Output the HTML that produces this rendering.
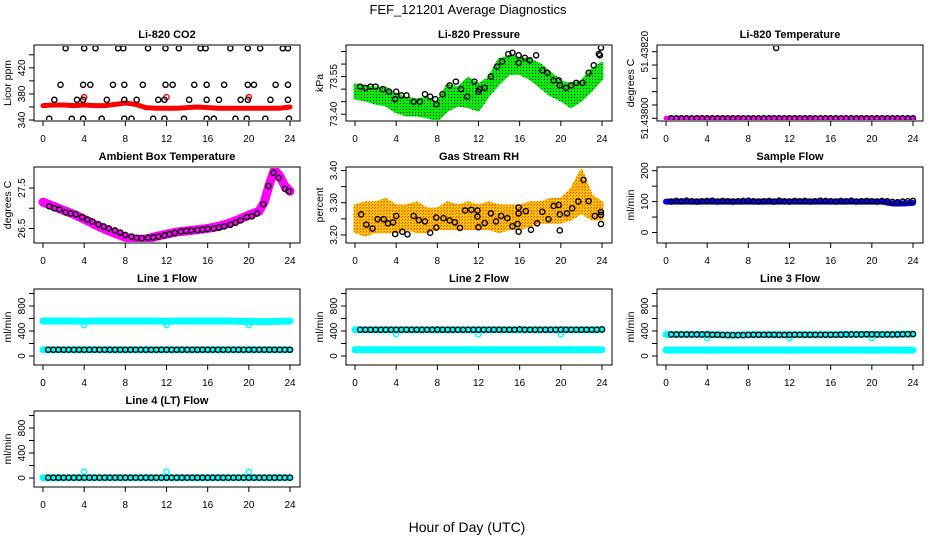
<!DOCTYPE html>
<html><head><meta charset="utf-8">
<style>
html,body{margin:0;padding:0;background:#fff;}
svg{display:block;font-family:"Liberation Sans",Arial,sans-serif;}
</style></head>
<body>
<svg id="chart" width="936" height="540" viewBox="0 0 936 540" xmlns="http://www.w3.org/2000/svg">
<defs>
<pattern id="greenDots" width="3" height="3" patternUnits="userSpaceOnUse">
<rect width="3" height="3" fill="#00ee00"/><rect x="1" y="1" width="1" height="1" fill="#000"/>
</pattern>
<pattern id="orangeDots" width="3" height="3" patternUnits="userSpaceOnUse">
<rect width="3" height="3" fill="#ffc000"/><rect width="1" height="1" fill="#ff4000"/><rect x="2" y="1" width="1" height="1" fill="#ff6000"/><rect x="1" y="2" width="1" height="1" fill="#ffe000"/>
</pattern>
</defs>
<text x="468" y="14" font-size="13" text-anchor="middle">FEF_121201  Average Diagnostics</text>
<text x="467" y="532" font-size="14" text-anchor="middle">Hour of Day (UTC)</text>
</svg>
<script>
// ---------- data ----------
const hourly = [0,1,2,3,4,5,6,7,8,9,10,11,12,13,14,15,16,17,18,19,20,21,22,23,24];
const halfHours = [0.5,1,1.5,2,2.5,3,3.5,4,4.5,5,5.5,6,6.5,7,7.5,8,8.5,9,9.5,10,10.5,11,11.5,12,12.5,13,13.5,14,14.5,15,15.5,16,16.5,17,17.5,18,18.5,19,19.5,20,20.5,21,21.5,22,22.5,23,23.5,24];
const xTicks = [0,4,8,12,16,20,24];

// CO2
const co2Band = [362,363,363,362,363,362,362,364,366,364,359,358,358,358,359,360,359,358,358,358,358,358,358,358,360];
const co2RedOutH = [4,12,20];
const co2RedOutV = [375,375,375];
const co2CircH = [2.2,4.0,5.1,7.3,7.8,10.2,11.9,13.2,15.3,15.8,18.2,19.9,21.1,23.3,23.8,
 1.7,3.9,4.6,6.8,7.9,9.7,11.9,12.6,14.7,15.9,17.6,19.9,20.5,22.6,23.8,
 1.1,3.3,3.9,6.2,7.9,9.1,11.2,11.8,14.2,15.9,17.1,19.2,19.9,22.1,23.8,
 0.6,2.8,3.9,5.7,7.9,8.6,10.7,11.8,13.7,15.9,16.6,18.7,19.8,21.6,23.9];
const co2CircV = [450,450,450,450,450,450,450,450,450,450,450,450,450,450,450,
 394,394,394,394,394,394,394,394,394,394,394,394,394,394,394,
 371,371,371,371,371,371,371,371,371,371,371,371,371,371,371,
 342,342,342,342,342,342,342,342,342,342,342,342,342,342,342];

// Pressure
const presUpper = [73.517,73.510,73.504,73.504,73.477,73.464,73.457,73.464,73.444,73.517,73.504,73.543,73.517,73.543,73.617,73.630,73.623,73.617,73.597,73.563,73.530,73.517,73.530,73.577,73.603];
const presLower = [73.464,73.457,73.444,73.437,73.410,73.397,73.397,73.390,73.377,73.417,73.437,73.430,73.417,73.477,73.524,73.563,73.563,73.543,73.510,73.477,73.457,73.430,73.457,73.497,73.543];
const presCircH = [0.5,1,1.5,2,2.7,3.3,4,3.9,4.5,5,5.7,6.3,6.8,7.3,7.8,7.9,8.5,9.2,9.8,10.3,10.9,11.6,12.1,12.0,12.6,13.2,13.8,14.3,14.9,15.3,15.9,15.9,16.5,17,17.6,18.2,18.7,19.3,19.8,19.9,20.5,21,21.5,22.1,22.7,23.2,23.8,23.9,23.7];
const presCircV = [73.51,73.505,73.51,73.51,73.50,73.49,73.49,73.46,73.475,73.475,73.45,73.45,73.48,73.47,73.46,73.44,73.48,73.515,73.53,73.50,73.47,73.53,73.50,73.49,73.505,73.55,73.59,73.61,73.64,73.645,73.635,73.605,73.625,73.615,73.635,73.575,73.565,73.535,73.535,73.515,73.505,73.515,73.525,73.525,73.565,73.595,73.635,73.665,73.64];

// Li-820 temperature
const tempBand = [51.438,51.438,51.438,51.438,51.438,51.438,51.438,51.438,51.438,51.438,51.438,51.438,51.438,51.438,51.438,51.438,51.438,51.438,51.438,51.438,51.438,51.438,51.438,51.438,51.438];
const tempCirc = [51.438,51.438,51.438,51.438,51.438,51.438,51.438,51.438,51.438,51.438,51.438,51.438,51.438,51.438,51.438,51.438,51.438,51.438,51.438,51.438,51.438,51.438,51.438,51.438,51.438,51.438,51.438,51.438,51.438,51.438,51.438,51.438,51.438,51.438,51.438,51.438,51.438,51.438,51.438,51.438,51.438,51.438,51.438,51.438,51.438,51.438,51.438,51.438];
const tempOutH = [10.7];
const tempOutV = [51.438211];

// Ambient box temperature
const ambHours = [0,1,2,3,4,5,6,7,8,9,10,11,12,13,14,15,16,17,18,19,20,21,21.5,22,22.5,23,23.5,24];
const ambVals = [27.15,27.05,26.95,26.85,26.73,26.6,26.48,26.38,26.28,26.23,26.24,26.3,26.36,26.41,26.44,26.47,26.5,26.55,26.62,26.72,26.83,26.93,27.15,27.6,27.95,27.8,27.55,27.42];
const ambCircH = [0.6,1.1,1.6,2.2,2.7,3.2,3.8,4.3,4.8,5.4,5.9,6.4,7.0,7.5,8.0,8.6,9.1,9.6,10.2,10.7,11.2,11.8,12.3,12.8,13.4,13.9,14.4,15.0,15.5,16.0,16.6,17.1,17.6,18.2,18.7,19.2,19.8,20.3,20.8,21.4,21.9,22.4,22.9,23.5,23.9];
const ambCircV = [27.05,27.0,26.97,26.9,26.87,26.85,26.78,26.72,26.67,26.6,26.55,26.5,26.45,26.4,26.34,26.3,26.27,26.26,26.27,26.28,26.3,26.33,26.36,26.39,26.42,26.44,26.45,26.46,26.47,26.49,26.5,26.52,26.55,26.59,26.64,26.7,26.78,26.8,26.87,27.1,27.55,27.88,27.75,27.48,27.42];

// Gas stream RH
const rhUpper = [3.29,3.30,3.30,3.31,3.29,3.29,3.30,3.28,3.28,3.30,3.29,3.30,3.29,3.30,3.29,3.29,3.29,3.30,3.30,3.31,3.31,3.34,3.40,3.32,3.30];
const rhLower = [3.21,3.20,3.21,3.21,3.21,3.22,3.21,3.21,3.22,3.22,3.22,3.22,3.22,3.22,3.21,3.22,3.22,3.23,3.24,3.24,3.24,3.25,3.27,3.25,3.25];
const rhCircH = [0.6,1.1,1.7,2.2,2.8,3.2,3.7,4.0,3.9,4.6,5.1,5.7,6.2,6.8,7.3,7.9,7.9,8.6,9.2,9.7,10.2,10.7,11.3,11.9,11.9,12.0,12.6,13.2,13.7,14.2,14.8,15.3,15.8,15.9,15.9,15.9,16.6,17.1,17.7,18.2,18.8,19.3,19.8,19.9,19.9,20.6,21.1,21.7,22.2,22.7,23.3,23.9,23.9,23.9];
const rhCircV = [3.264,3.232,3.220,3.249,3.249,3.236,3.239,3.259,3.203,3.210,3.202,3.259,3.246,3.242,3.207,3.254,3.223,3.252,3.245,3.239,3.222,3.276,3.278,3.276,3.257,3.224,3.237,3.267,3.242,3.259,3.252,3.227,3.234,3.285,3.210,3.267,3.274,3.216,3.236,3.272,3.249,3.290,3.293,3.214,3.264,3.267,3.283,3.304,3.371,3.305,3.259,3.271,3.234,3.262];

// Sample flow
const sampleBand = [100,100,100,100,100,100,100,100,100,100,100,100,100,100,100,100,100,100,100,100,100,100,94,94,96];
const sampleCirc = [100,102,101,103,101,100,101,102,103,100,102,101,100,101,102,103,101,100,101,102,100,103,101,100,102,101,102,100,101,103,102,101,100,102,101,103,100,101,102,101,100,102,101,99,98,100,101,102];

// Line flows
const line1Upper = [560,560,560,560,555,560,560,560,560,560,560,560,555,560,560,560,560,560,560,555,555,550,550,555,560];
const line1Lower = [100,100,100,100,100,100,100,100,100,100,100,100,100,100,100,100,100,100,100,100,100,100,100,100,100];
const line1Circ = [100,100,100,100,100,100,100,100,100,100,100,100,100,100,100,100,100,100,100,100,100,100,100,100,100,100,100,100,100,100,100,100,100,100,100,100,100,100,100,100,100,100,100,100,100,100,100,100];
const line1OutH = [4,12,20];
const line1OutV = [495,495,495];

const line2Upper = [420,420,420,420,420,420,420,420,420,420,420,420,420,420,420,420,420,420,420,420,420,420,420,420,425];
const line2Lower = [100,100,100,100,100,100,100,100,100,100,100,100,100,100,100,100,100,100,100,100,100,100,100,100,100];
const line2Circ = [420,420,420,420,420,420,420,420,420,420,420,420,420,420,420,422,420,420,420,420,420,420,420,420,420,420,420,420,420,420,420,425,420,420,420,420,420,420,420,422,420,420,420,420,420,420,420,425];
const line2OutH = [4,12,20];
const line2OutV = [350,350,350];

const line3Upper = [345,345,345,345,345,340,335,335,340,340,340,340,340,340,340,340,340,345,345,345,345,345,345,350,350];
const line3Lower = [95,95,95,95,95,95,95,95,95,95,95,95,95,95,95,95,95,95,95,95,95,95,95,95,95];
const line3Circ = [345,345,345,345,345,345,345,345,340,340,338,335,335,335,335,338,340,340,340,340,340,338,338,338,340,340,340,340,340,340,340,340,340,342,345,345,345,345,348,348,345,345,345,345,345,348,350,352];
const line3OutH = [4,12,20];
const line3OutV = [285,285,285];

const line4Band = [5,5,5,5,5,5,5,5,5,5,5,5,5,5,5,5,5,5,5,5,5,5,5,5,5];
const line4Circ = [5,5,5,5,5,5,5,5,5,5,5,5,5,5,5,5,5,5,5,5,5,5,5,5,5,5,5,5,5,5,5,5,5,5,5,5,5,5,5,5,5,5,5,5,5,5,5,5];
const line4OutH = [4,12,20];
const line4OutV = [100,100,100];

// ---------- drawing ----------
const NS = "http://www.w3.org/2000/svg";
const svg = document.getElementById("chart");
const colLeft = [34, 346, 657];
const rowTop = [45, 167, 289, 411];
const PW = 266, PH = 76;

function mk(tag, parent) {
  const e = document.createElementNS(NS, tag);
  parent.appendChild(e);
  return e;
}

function makePanel(col, row, key, title, ylab, ylim, yTicks, yLabels, yLabelText) {
  const L = colLeft[col], T = rowTop[row];
  const g = mk("g", svg);
  
  
  const xs = h => L + 9 + h * (247 / 24);
  const ys = v => T + PH - (v - ylim[0]) / (ylim[1] - ylim[0]) * PH;
  const t = mk("text", g);
  
  
  t.setAttribute("x", L + PW / 2); t.setAttribute("y", T - 7);
  t.setAttribute("text-anchor", "middle"); t.setAttribute("font-size", "11"); t.setAttribute("font-weight", "bold");
  t.textContent = title;
  const plot = mk("g", g);
  
  
  const ax = mk("g", g);
  
  
  const box = mk("rect", ax);
  
  
  box.setAttribute("x", L); box.setAttribute("y", T); box.setAttribute("width", PW); box.setAttribute("height", PH);
  box.setAttribute("fill", "none"); box.setAttribute("stroke", "#000"); box.setAttribute("stroke-width", "1");
  xTicks.forEach(h => {
    const x = xs(h);
    const ln = mk("line", ax);
    
    
    ln.setAttribute("x1", x); ln.setAttribute("x2", x); ln.setAttribute("y1", T + PH); ln.setAttribute("y2", T + PH + 5);
    ln.setAttribute("stroke", "#000");
    const tx = mk("text", ax);
    
    
    tx.setAttribute("x", x); tx.setAttribute("y", T + PH + 21);
    tx.setAttribute("text-anchor", "middle"); tx.setAttribute("font-size", "10");
    tx.textContent = h;
  });
  yTicks.forEach(v => {
    const y = ys(v);
    const ln = mk("line", ax);
    
    
    ln.setAttribute("x1", L - 5); ln.setAttribute("x2", L); ln.setAttribute("y1", y); ln.setAttribute("y2", y);
    ln.setAttribute("stroke", "#000");
  });
  yLabels.forEach((v, i) => {
    const y = ys(v);
    const tx = mk("text", ax);
    
    
    tx.setAttribute("transform", `translate(${L - 9},${y}) rotate(-90)`);
    tx.setAttribute("text-anchor", "middle"); tx.setAttribute("font-size", "10");
    tx.textContent = yLabelText[i];
  });
  const yl = mk("text", ax);
  
  
  yl.setAttribute("transform", `translate(${L - 23},${T + PH / 2}) rotate(-90)`);
  yl.setAttribute("text-anchor", "middle"); yl.setAttribute("font-size", "10.5");
  yl.textContent = ylab;
  const clip = mk("clipPath", svg);
  clip.setAttribute("id", "clip-" + key);
  const cr = mk("rect", clip);
  cr.setAttribute("x", L + 1); cr.setAttribute("y", T + 1); cr.setAttribute("width", PW - 2); cr.setAttribute("height", PH - 2);
  plot.setAttribute("clip-path", `url(#clip-${key})`);
  return { xs, ys, plot, key };
}

function band(p, hs, vs, color, width, name) {
  const pl = mk("polyline", p.plot);
  
  
  pl.setAttribute("points", hs.map((h, i) => p.xs(h) + "," + p.ys(vs[i])).join(" "));
  pl.setAttribute("fill", "none"); pl.setAttribute("stroke", color); pl.setAttribute("stroke-width", width);
  pl.setAttribute("stroke-linejoin", "round"); pl.setAttribute("stroke-linecap", "round");
}
function area(p, hs, up, lo, fill, name) {
  const pts = hs.map((h, i) => p.xs(h) + "," + p.ys(up[i]))
    .concat(hs.slice().reverse().map((h, j) => p.xs(h) + "," + p.ys(lo[hs.length - 1 - j])));
  const pg = mk("polygon", p.plot);
  
  
  pg.setAttribute("points", pts.join(" "));
  pg.setAttribute("fill", fill); pg.setAttribute("stroke", fill); pg.setAttribute("stroke-width", "3");
  pg.setAttribute("stroke-linejoin", "round");
}
function circles(p, hs, vs, color, name) {
  hs.forEach((h, i) => {
    const c = mk("circle", p.plot);
    
    
    c.setAttribute("cx", p.xs(h)); c.setAttribute("cy", p.ys(vs[i])); c.setAttribute("r", "2.6");
    c.setAttribute("fill", "none"); c.setAttribute("stroke", color); c.setAttribute("stroke-width", "1.4");
  });
}

const flowTicks = [0,200,400,600,800,1000];
const flowLab = [0,400,800];
const flowLim = [-144, 1072];

// Panel 1: CO2
let p = makePanel(0, 0, "co2", "Li-820 CO2", "Licor ppm", [338.5, 455], [340,360,380,400,420,440], [340,380,420], ["340","380","420"]);
band(p, hourly, co2Band, "#ff0000", 5, "co2-red-series");
circles(p, co2RedOutH, co2RedOutV, "#ff0000", "co2-red-outlier");
circles(p, co2CircH, co2CircV, "#000", "co2-average-point");

// Panel 2: Pressure
p = makePanel(1, 0, "pressure", "Li-820 Pressure", "kPa", [73.373, 73.676], [73.40,73.45,73.50,73.55,73.60,73.65], [73.40,73.55], ["73.40","73.55"]);
area(p, hourly, presUpper, presLower, "url(#greenDots)", "pressure-green-series");
circles(p, presCircH, presCircV, "#000", "pressure-average-point");

// Panel 3: Li-820 Temperature
p = makePanel(2, 0, "li820-temp", "Li-820 Temperature", "degrees C", [51.43800 - 2.7/333000, 51.43820 + 6.7/333000], [51.438,51.43804,51.43808,51.43812,51.43816,51.4382], [51.438,51.4382], ["51.43800","51.43820"]);
band(p, hourly, tempBand, "#ff00ff", 5, "li820-temp-magenta-series");
circles(p, halfHours, tempCirc, "#000", "li820-temp-average-point");
circles(p, tempOutH, tempOutV, "#000", "li820-temp-outlier");

// Panel 4: Ambient Box Temperature
p = makePanel(0, 1, "ambient", "Ambient Box Temperature", "degrees C", [26.14, 28.02], [26.5,27.0,27.5], [26.5,27.5], ["26.5","27.5"]);
band(p, ambHours, ambVals, "#ff00ff", 9, "ambient-magenta-series");
circles(p, ambCircH, ambCircV, "#000", "ambient-average-point");

// Panel 5: Gas Stream RH
p = makePanel(1, 1, "rh", "Gas Stream RH", "percent", [3.175, 3.411], [3.20,3.25,3.30,3.35,3.40], [3.20,3.30,3.40], ["3.20","3.30","3.40"]);
area(p, hourly, rhUpper, rhLower, "url(#orangeDots)", "rh-orange-series");
circles(p, rhCircH, rhCircV, "#000", "rh-average-point");

// Panel 6: Sample Flow
p = makePanel(2, 1, "sample-flow", "Sample Flow", "ml/min", [-34, 212], [0,50,100,150,200], [0,100,200], ["0","100","200"]);
band(p, hourly, sampleBand, "#0000ff", 6, "sample-flow-blue-series");
circles(p, halfHours, sampleCirc, "#000", "sample-flow-average-point");

// Line 1
p = makePanel(0, 2, "line1", "Line 1 Flow", "ml/min", flowLim, flowTicks, flowLab, ["0","400","800"]);
band(p, hourly, line1Upper, "#00ffff", 7, "line1-cyan-upper-series");
band(p, hourly, line1Lower, "#00ffff", 7, "line1-cyan-lower-series");
circles(p, line1OutH, line1OutV, "#00ffff", "line1-cyan-outlier");
circles(p, halfHours, line1Circ, "#000", "line1-average-point");

// Line 2
p = makePanel(1, 2, "line2", "Line 2 Flow", "ml/min", flowLim, flowTicks, flowLab, ["0","400","800"]);
band(p, hourly, line2Upper, "#00ffff", 7, "line2-cyan-upper-series");
band(p, hourly, line2Lower, "#00ffff", 7, "line2-cyan-lower-series");
circles(p, line2OutH, line2OutV, "#00ffff", "line2-cyan-outlier");
circles(p, halfHours, line2Circ, "#000", "line2-average-point");

// Line 3
p = makePanel(2, 2, "line3", "Line 3 Flow", "ml/min", flowLim, flowTicks, flowLab, ["0","400","800"]);
band(p, hourly, line3Upper, "#00ffff", 7, "line3-cyan-upper-series");
band(p, hourly, line3Lower, "#00ffff", 7, "line3-cyan-lower-series");
circles(p, line3OutH, line3OutV, "#00ffff", "line3-cyan-outlier");
circles(p, halfHours, line3Circ, "#000", "line3-average-point");

// Line 4
p = makePanel(0, 3, "line4", "Line 4 (LT) Flow", "ml/min", flowLim, flowTicks, flowLab, ["0","400","800"]);
band(p, hourly, line4Band, "#00ffff", 7, "line4-cyan-series");
circles(p, line4OutH, line4OutV, "#00ffff", "line4-cyan-outlier");
circles(p, halfHours, line4Circ, "#000", "line4-average-point");
</script>
</body></html>
